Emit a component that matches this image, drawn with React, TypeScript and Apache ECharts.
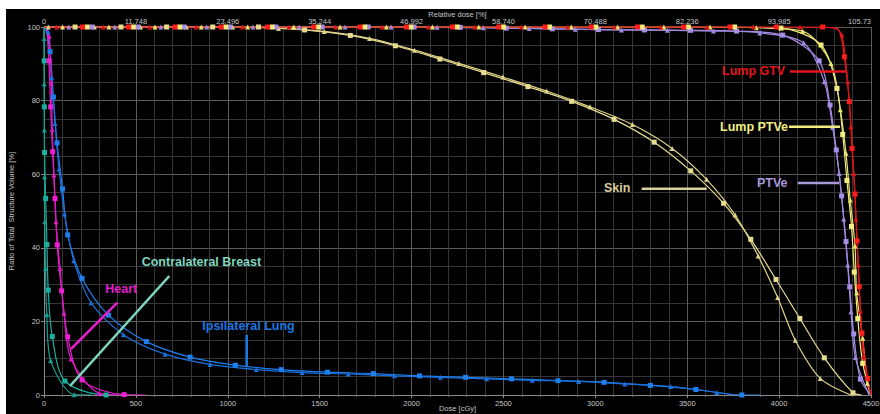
import React, { useEffect, useRef } from "react";
import * as echarts from "echarts";

// ---------- data (dose in cGy, ratio of volume in %) ; third element 0 = point without marker ----------
const xTickLabels = ["0", "500", "1000", "1500", "2000", "2500", "3000", "3500", "4000", "4500"];
const topTickLabels = ["0", "11.748", "23.496", "35.244", "46.992", "58.740", "70.488", "82.236", "93.985", "105.73"];
const yTickLabels = ["0", "20", "40", "60", "80", "100"];

const lumpGtvSq = [
  [0, 100, 0], [210, 100], [461, 100], [713, 100], [964, 100], [1217, 100], [1468, 100], [1720, 100], [1972, 100],
  [2223, 100], [2475, 100], [2727, 100], [2978, 100], [3230, 100], [3481, 100], [3733, 100], [3985, 100], [4237, 100],
  [4318, 99.6, 0], [4355, 91.9], [4382, 79.7], [4397, 67.0], [4413, 54.6], [4424, 41.9], [4436, 29.4], [4451, 16.8],
  [4482, 4.5], [4500, 0, 0],
];
const lumpGtvTri = [
  [0, 100, 0], [69, 100], [322, 100], [574, 100], [827, 100], [1080, 100], [1333, 100], [1586, 100], [1839, 100],
  [2091, 100], [2344, 100], [2597, 100], [2850, 100], [3103, 100], [3355, 100], [3608, 100], [3861, 100], [4114, 100],
  [4300, 99.7, 0], [4342, 97.8], [4373, 85.1], [4391, 72.9], [4406, 60.2], [4418, 47.8], [4431, 35.3], [4442, 22.8],
  [4458, 10.4], [4500, 0, 0],
];
const lumpPtveSq = [
  [0, 100, 0], [234, 100], [486, 100], [738, 100], [989, 100], [1241, 100], [1493, 100], [1745, 100], [1996, 100],
  [2248, 100], [2500, 100], [2751, 100], [3003, 100], [3255, 100], [3506, 100], [3758, 100], [4010, 99.7],
  [4228, 95.1], [4315, 83.3], [4346, 70.8], [4369, 58.3], [4394, 45.8], [4409, 33.4], [4428, 20.8], [4455, 8.6],
  [4500, 0, 0],
];
const lumpPtveTri = [
  [0, 100, 0], [101, 100], [353, 100], [604, 100], [856, 100], [1108, 100], [1359, 100], [1611, 100], [1863, 100],
  [2114, 100], [2366, 100], [2618, 100], [2869, 100], [3121, 100], [3373, 100], [3624, 100], [3876, 99.8],
  [4128, 98.9], [4282, 90.1], [4333, 77.5], [4364, 65.7], [4387, 53.0], [4413, 40.5], [4422, 27.8], [4455, 15.4],
  [4480, 3.2], [4500, 0, 0],
];
const ptveSq = [
  [0, 100, 0], [260, 100], [510, 100], [761, 100], [1012, 100], [1262, 100], [1513, 100], [1764, 100], [2014, 100],
  [2265, 99.9], [2515, 99.7], [2766, 99.5], [3017, 99.3], [3267, 99.2], [3518, 99.1], [3768, 98.9], [4019, 97.8],
  [4218, 90.8], [4277, 78.8], [4311, 66.6], [4340, 54.1], [4364, 41.7], [4384, 29.4], [4406, 16.6], [4442, 4.3],
  [4500, 0, 0],
];
const ptveTri = [
  [0, 100, 0], [135, 100], [385, 100], [636, 100], [886, 100], [1137, 100], [1388, 100], [1638, 100], [1889, 100],
  [2139, 99.9], [2390, 99.8], [2640, 99.6], [2891, 99.4], [3142, 99.2], [3392, 99.1], [3643, 98.9], [3895, 98.4],
  [4133, 95.7], [4246, 85.1], [4291, 72.7], [4327, 60.2], [4351, 47.8], [4373, 35.3], [4391, 22.6], [4415, 10.2],
  [4489, 0, 0],
];
const skinSq = [
  [0, 100, 0], [169, 100], [419, 100], [667, 100], [918, 100], [1167, 100], [1418, 99.2], [1667, 97.7], [1912, 94.9],
  [2154, 91.3], [2393, 87.6], [2633, 83.8], [2871, 79.8], [3102, 74.9], [3320, 68.7], [3519, 60.9], [3698, 52.1],
  [3846, 42.3], [3983, 31.4], [4113, 20.8], [4246, 10.1], [4402, 0.6], [4450, 0, 0],
];
const skinTri = [
  [0, 100, 0], [23, 100], [274, 100], [525, 100], [775, 100], [1026, 100], [1276, 99.6], [1525, 98.8], [1772, 96.9],
  [2016, 93.7], [2257, 90.1], [2497, 86.4], [2735, 82.6], [2971, 78.3], [3202, 73.5], [3418, 67.0], [3605, 58.6],
  [3761, 48.9], [3886, 37.8], [3992, 26.5], [4088, 14.9], [4224, 4.5], [4390, 0, 0],
];
const lungSq = [
  [8, 100, 0], [33, 93.3], [51, 81], [71, 68.5], [101, 56], [129, 43.5], [207, 31.7], [351, 21.7], [557, 14.5],
  [795, 10.3], [1041, 8.1], [1291, 6.9], [1542, 6.2], [1792, 5.8], [2043, 5.2], [2294, 4.8], [2544, 4.4], [2797, 3.9],
  [3048, 3.45], [3299, 2.6], [3547, 1.5], [3797, 0], [3900, 0, 0],
];
const lungTri = [
  [6, 100, 0], [23, 98.7], [42, 86.3], [60, 73.8], [82, 61.4], [112, 49.2], [162, 36.5], [256, 25.1], [432, 16.4],
  [659, 11.1], [904, 8.3], [1155, 6.9], [1404, 6.1], [1656, 5.7], [1907, 5.2], [2157, 4.8], [2408, 4.4], [2657, 4.0],
  [2909, 3.7], [3160, 3.0], [3410, 2.3], [3661, 0.7], [3760, 0, 0],
];
const heartSq = [
  [16, 100, 0], [27, 90.8], [36, 78.3], [47, 66.1], [60, 53.4], [72, 40.8], [96, 28.3], [129, 15.8], [207, 4.1],
  [436, 0.1], [550, 0, 0],
];
const heartTri = [
  [10, 100, 0], [29, 97.5], [40, 84.7], [45, 72.2], [54, 59.8], [65, 47.1], [87, 34.4], [109, 22.2], [147, 9.8],
  [300, 0.5], [420, 0, 0],
];
const breastSq = [
  [0, 100, 0], [1, 90.8], [2, 78.3], [3, 65.9], [9, 53.4], [16, 40.9], [23, 28.5], [45, 15.9], [114, 3.8], [338, 0],
  [360, 0, 0],
];
const breastTri = [
  [0, 100, 0], [1, 96.9], [1.5, 84.5], [2, 72], [3, 59.3], [4, 47.1], [8, 34.4], [15, 21.9], [36, 9.4], [165, 0.1],
  [260, 0, 0],
];

const seriesDefs = [
  { name: "Skin □", data: skinSq, color: "#e6dc8e", symbol: "rect" },
  { name: "Skin △", data: skinTri, color: "#ddd488", symbol: "triangle" },
  { name: "Ipsilateral Lung □", data: lungSq, color: "#1e80f0", symbol: "rect" },
  { name: "Ipsilateral Lung △", data: lungTri, color: "#1a70dc", symbol: "triangle" },
  { name: "Contralateral Breast □", data: breastSq, color: "#1ab0a0", symbol: "rect" },
  { name: "Contralateral Breast △", data: breastTri, color: "#14a090", symbol: "triangle" },
  { name: "Heart □", data: heartSq, color: "#ee1ed2", symbol: "rect" },
  { name: "Heart △", data: heartTri, color: "#e018c8", symbol: "triangle" },
  { name: "PTVe □", data: ptveSq, color: "#a68ee6", symbol: "rect" },
  { name: "PTVe △", data: ptveTri, color: "#9f88e0", symbol: "triangle" },
  { name: "Lump PTVe □", data: lumpPtveSq, color: "#f2ee7c", symbol: "rect" },
  { name: "Lump PTVe △", data: lumpPtveTri, color: "#e8e470", symbol: "triangle" },
  { name: "Lump GTV □", data: lumpGtvSq, color: "#ff1e1e", symbol: "rect" },
  { name: "Lump GTV △", data: lumpGtvTri, color: "#d81414", symbol: "triangle" },
];

// annotation labels (page coordinates)
const OX = 6;
const OY = 9;
const annotations = [
  { text: "Lump GTV", color: "#e8141c", tx: 722, ty: 71, line: [790, 71.5, 847, 71.5] },
  { text: "Lump PTVe", color: "#f0ee82", tx: 720, ty: 126.5, line: [789, 126.7, 840, 126.7] },
  { text: "PTVe", color: "#a898dc", tx: 757, ty: 182.7, line: [797.7, 183, 839.3, 183] },
  { text: "Skin", color: "#d8d09c", tx: 604, ty: 188.3, line: [641.7, 188.7, 706.7, 188.7] },
  { text: "Heart", color: "#e020c8", tx: 105.3, ty: 289.3, line: [71, 349, 117.3, 302.7] },
  { text: "Contralateral Breast", color: "#7fd6bf", tx: 141.7, ty: 262, line: [70, 386, 169.3, 276] },
  { text: "Ipsilateral Lung", color: "#1a78e0", tx: 202.3, ty: 325.7, line: [246.7, 335, 246.7, 366.7] },
];

const toData = (pts: number[][]) =>
  pts.map((p) => (p.length > 2 && p[2] === 0 ? { value: [p[0], p[1]], symbol: "none" } : [p[0], p[1]]));

export default function App() {
  const ref = useRef<HTMLDivElement>(null);
  useEffect(() => {
    if (!ref.current) return;
    const chart = echarts.init(ref.current, undefined, { renderer: "svg" });
    const labelColor = "#c4c4c4";
    const major = "#5c5c5c";
    const minor = "#363636";
    const font = "Liberation Sans, Arial, sans-serif";

    const graphic: any[] = [];
    annotations.forEach((a) => {
      graphic.push({
        type: "line",
        shape: { x1: a.line[0] - OX, y1: a.line[1] - OY, x2: a.line[2] - OX, y2: a.line[3] - OY },
        style: { stroke: a.color, lineWidth: 2.6 },
        z: 100,
      });
      graphic.push({
        type: "text",
        x: a.tx - OX,
        y: a.ty - OY,
        style: {
          text: a.text,
          fill: a.color,
          fontSize: 12.5,
          fontWeight: "bold",
          fontFamily: font,
          verticalAlign: "middle",
          align: "left",
        },
        z: 100,
      });
    });

    chart.setOption({
      animation: false,
      backgroundColor: "#000000",
      textStyle: { fontFamily: font },
      grid: { left: 38, top: 18, right: 9, bottom: 19, containLabel: false, outerBoundsMode: "none" },
      xAxis: [
        {
          type: "value",
          position: "bottom",
          min: 0,
          max: 4500,
          interval: 500,
          name: "Dose [cGy]",
          nameLocation: "middle",
          nameGap: 9,
          nameMoveOverlap: false,
          nameTextStyle: { color: labelColor, fontSize: 7.5 },
          axisLine: { show: true, lineStyle: { color: "#8a8a8a", width: 1 } },
          axisTick: { show: true, length: 3, lineStyle: { color: "#8a8a8a" } },
          minorTick: { show: true, splitNumber: 5, length: 2, lineStyle: { color: "#6a6a6a" } },
          axisLabel: {
            color: labelColor,
            fontSize: 7.5,
            margin: 4,
            formatter: (v: number) => xTickLabels[Math.round(v / 500)] ?? "",
          },
          splitLine: { show: true, lineStyle: { color: major, width: 1 } },
          minorSplitLine: { show: true, lineStyle: { color: minor, width: 1 } },
        },
        {
          type: "value",
          position: "top",
          min: 0,
          max: 4500,
          interval: 500,
          name: "Relative dose [%]",
          nameLocation: "middle",
          nameGap: 9,
          nameMoveOverlap: false,
          nameTextStyle: { color: labelColor, fontSize: 7.5 },
          axisLine: { show: false },
          axisTick: { show: false },
          axisLabel: {
            color: labelColor,
            fontSize: 7.5,
            margin: 2,
            alignMaxLabel: "right",
            formatter: (v: number) => topTickLabels[Math.round(v / 500)] ?? "",
          },
          splitLine: { show: false },
        },
      ],
      yAxis: {
        type: "value",
        min: 0,
        max: 100,
        interval: 20,
        name: "Ratio of Total  Structure Volume [%]",
        nameLocation: "middle",
        nameRotate: 90,
        nameGap: 29,
        nameMoveOverlap: false,
        nameTextStyle: { color: labelColor, fontSize: 7.5 },
        axisLine: { show: true, lineStyle: { color: "#8a8a8a", width: 1 } },
        axisTick: { show: true, length: 3, lineStyle: { color: "#8a8a8a" } },
        axisLabel: {
          color: labelColor,
          fontSize: 7.5,
          margin: 4,
          formatter: (v: number) => yTickLabels[Math.round(v / 20)] ?? "",
        },
        splitLine: { show: true, lineStyle: { color: major, width: 1 } },
        minorSplitLine: { show: true, lineStyle: { color: minor, width: 1 } },
        minorTick: { show: false, splitNumber: 4 },
      },
      series: seriesDefs.map((s) => ({
        name: s.name,
        type: "line",
        xAxisIndex: 0,
        yAxisIndex: 0,
        data: toData(s.data),
        smooth: 0.3,
        symbol: s.symbol,
        symbolSize: 5,
        showSymbol: true,
        showAllSymbol: true,
        clip: true,
        lineStyle: { color: s.color, width: 1.2 },
        itemStyle: { color: s.color },
        emphasis: { disabled: true },
      })),
      graphic,
    });
    return () => chart.dispose();
  }, []);

  return (
    <div style={{ position: "fixed", left: 0, top: 0, width: 880, height: 414, background: "#ffffff" }}>
      <div ref={ref} style={{ position: "absolute", left: OX, top: OY, width: 874, height: 405 }} />
    </div>
  );
}
